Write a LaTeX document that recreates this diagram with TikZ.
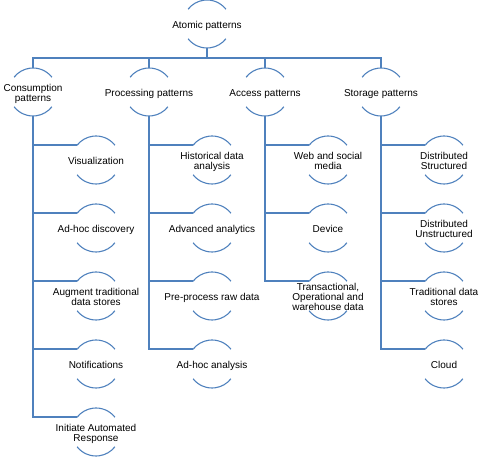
\documentclass[tikz,border=0pt]{standalone}
\usepackage{fontspec}
\setmainfont{Liberation Sans}
\usepackage{xcolor}
\definecolor{patblue}{RGB}{79,129,189}
\newcommand{\lbl}[1]{\raisebox{-2.5pt}[\height][\depth]{\makebox[0pt]{\begin{tabular}{@{}c@{}}#1\end{tabular}}}}

\begin{document}
\begin{tikzpicture}[x=1pt,y=1pt,node distance=68pt,
  pat/.style={circle,minimum size=48pt,inner sep=0pt,outer sep=0pt,font=\fontsize{10}{10.4}\selectfont},
  link/.style={draw=patblue,line width=1.6pt},
  rim/.style={draw=patblue,line width=1.1pt}]

            \useasboundingbox (0,0) rectangle (482,457);

            \node[pat]  (atom) at (207,433) {\lbl{Atomic patterns}};

            \node[pat]  (cons) at (33,365) {\lbl{Consumption\\patterns}};
            \node[pat]  (proc) [right of = cons, node distance=116pt] {\lbl{Processing patterns}};
            \node[pat]  (acc)  [right of = proc, node distance=116pt] {\lbl{Access patterns}};
            \node[pat]  (stor) [right of = acc, node distance=116pt] {\lbl{Storage patterns}};

            % consumption
            \node[pat]  (c1) [below of = cons, xshift=63pt] {\lbl{Visualization}};
            \node[pat]  (c2) [below of = c1] {\lbl{Ad-hoc discovery}};
            \node[pat]  (c3) [below of = c2] {\lbl{Augment traditional\\data stores}};
            \node[pat]  (c4) [below of = c3] {\lbl{Notifications}};
            \node[pat]  (c5) [below of = c4] {\lbl{Initiate Automated\\Response}};

            % processing
            \node[pat]  (p1) [below of = proc, xshift=63pt] {\lbl{Historical data\\analysis}};
            \node[pat]  (p2) [below of = p1] {\lbl{Advanced analytics}};
            \node[pat]  (p3) [below of = p2] {\lbl{Pre-process raw data}};
            \node[pat]  (p4) [below of = p3] {\lbl{Ad-hoc analysis}};

            % access
            \node[pat]  (a1) [below of = acc, xshift=63pt] {\lbl{Web and social\\media}};
            \node[pat]  (a2) [below of = a1] {\lbl{Device}};
            \node[pat]  (a3) [below of = a2] {\lbl{Transactional,\\Operational and\\warehouse data}};

            % storage
            \node[pat]  (s1) [below of = stor, xshift=63pt] {\lbl{Distributed\\Structured}};
            \node[pat]  (s2) [below of = s1] {\lbl{Distributed\\Unstructured}};
            \node[pat]  (s3) [below of = s2] {\lbl{Traditional data\\stores}};
            \node[pat]  (s4) [below of = s3] {\lbl{Cloud}};

            \coordinate (bus) at (207,399);

            \path[link]
                (atom.south) -- (bus)
                (cons.north) |- (bus) -| (stor.north)
                (proc.north) -- (proc.north |- bus)
                (acc.north) -- (acc.north |- bus)
            ;
            \foreach \n in {c1,c2,c3,c4,c5} \draw[link] (cons.south) |- (\n.142);
            \foreach \n in {p1,p2,p3,p4} \draw[link] (proc.south) |- (\n.142);
            \foreach \n in {a1,a2,a3} \draw[link] (acc.south) |- (\n.142);
            \foreach \n in {s1,s2,s3,s4} \draw[link] (stor.south) |- (\n.142);

            \foreach \n in {atom,cons,proc,acc,stor,c1,c2,c3,c4,c5,p1,p2,p3,p4,a1,a2,a3,s1,s2,s3,s4}
                \draw[rim] (\n.38) arc[start angle=38,end angle=142,radius=24pt]
                           (\n.218) arc[start angle=218,end angle=322,radius=24pt];
        \end{tikzpicture}
\end{document}
